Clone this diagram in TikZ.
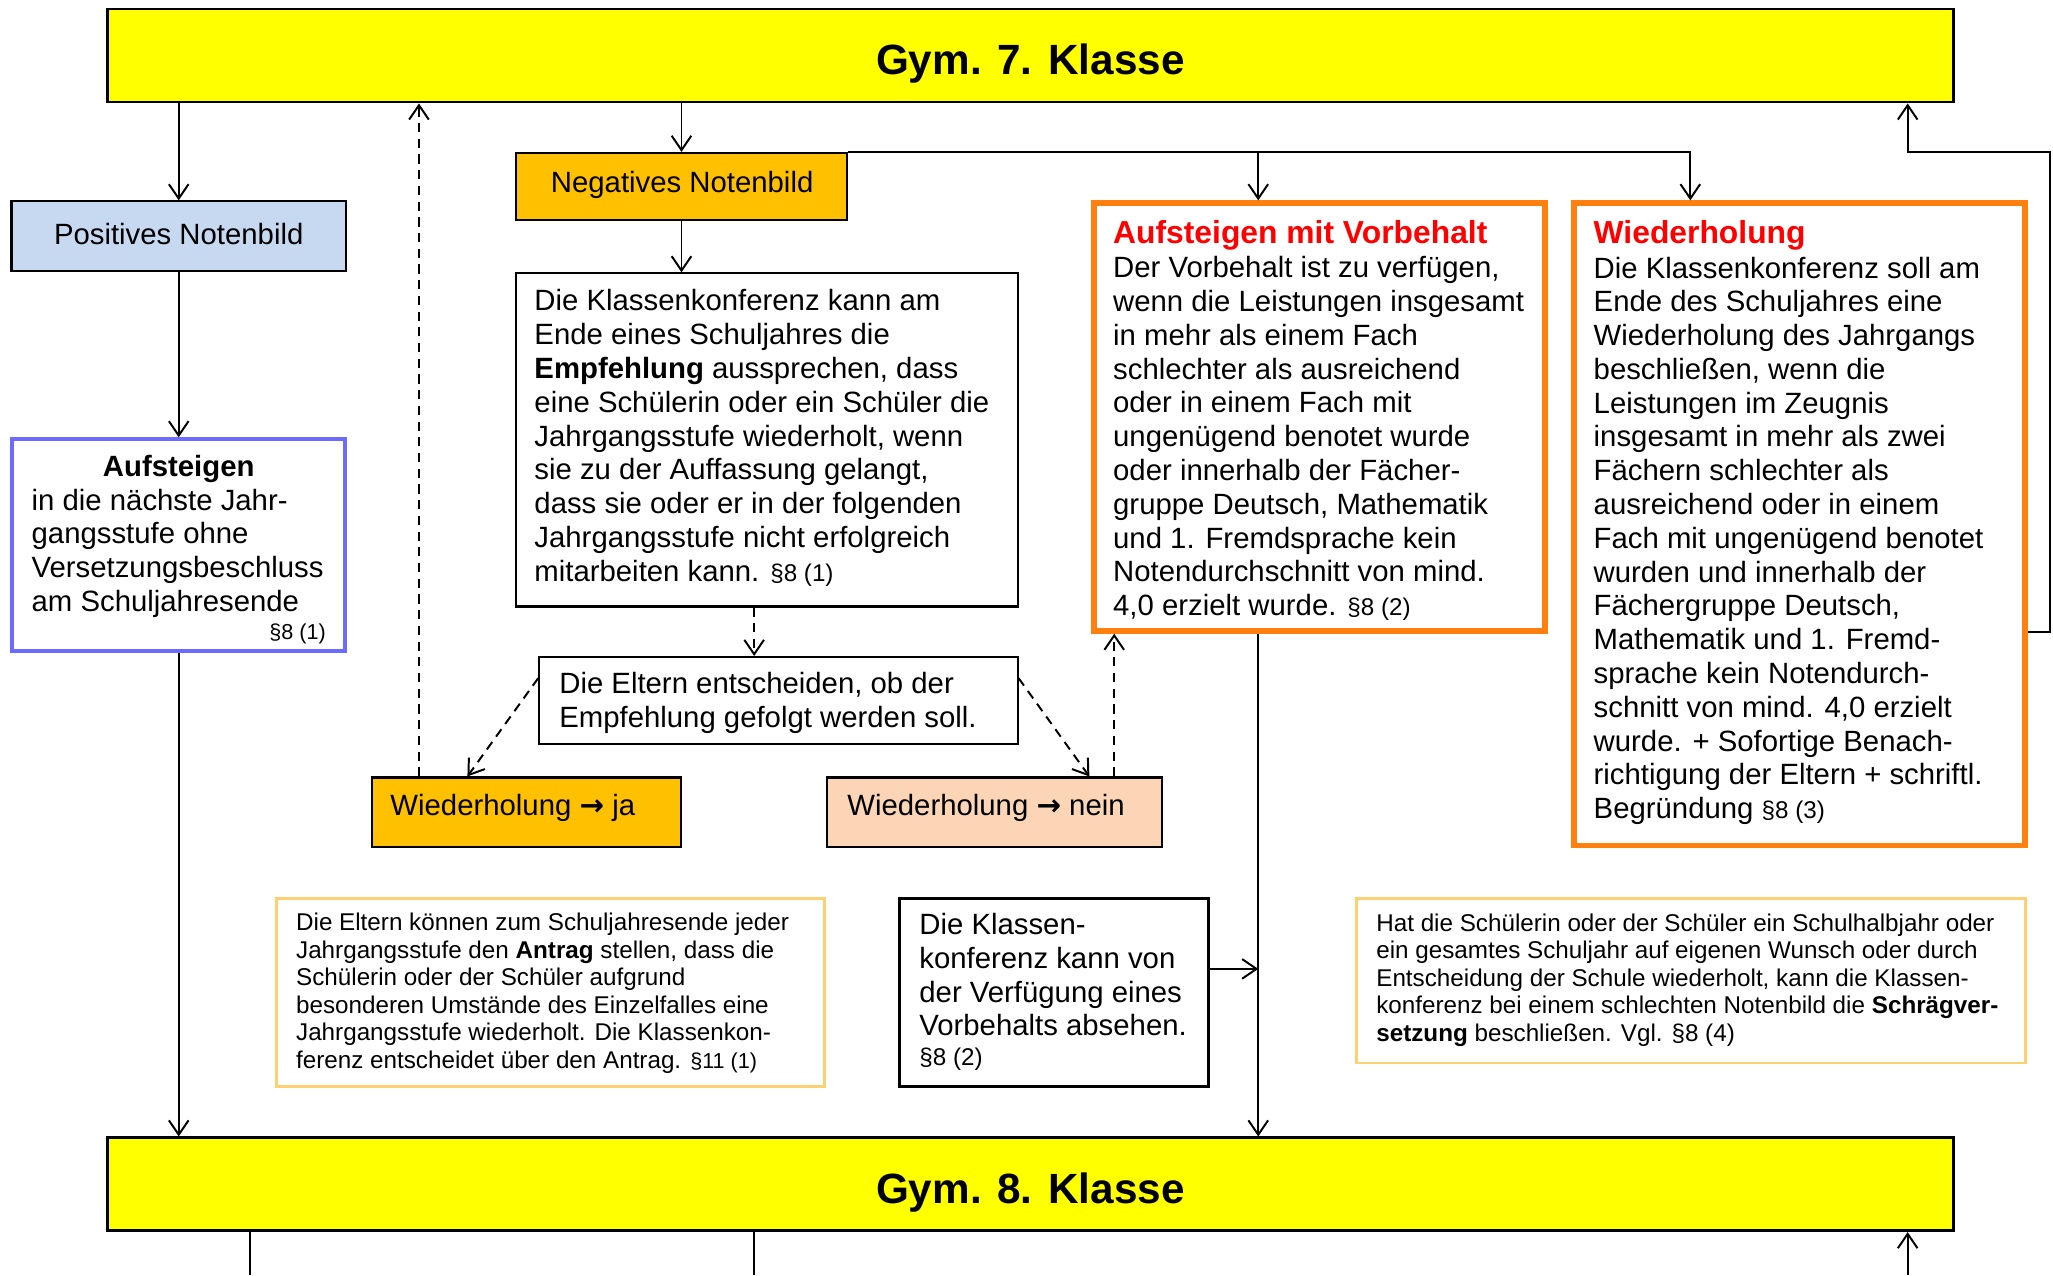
\documentclass[tikz,border=0pt]{standalone}
\usepackage{fontspec}
\setmainfont{Liberation Sans}
\newfontfamily\arrowfont{DejaVu Sans}
\usetikzlibrary{arrows.meta}
\definecolor{gelb}{HTML}{FFFF00}
\definecolor{hblau}{HTML}{C6D9F1}
\definecolor{gold}{HTML}{FFC000}
\definecolor{pfirsich}{HTML}{FBD5B5}
\definecolor{blaurand}{HTML}{6B6BFF}
\definecolor{orangerand}{HTML}{FF800F}
\definecolor{hellorange}{HTML}{FFD070}
\definecolor{rot}{HTML}{FF0000}
\newcommand\mainf{\fontsize{22.4}{25.8}\selectfont}
\newcommand\smallf{\fontsize{18.5}{21}\selectfont}
\newcommand\reff{\fontsize{18.5}{21}\selectfont}
\newcommand\tinyref{\fontsize{16.5}{19}\selectfont}
\newcommand\titlef{\fontsize{32.3}{36}\selectfont\bfseries}
\newcommand\headf{\fontsize{24.3}{28}\selectfont\bfseries}
\newcommand\pfeil{{\arrowfont\bfseries →}}
\begin{document}
\begin{tikzpicture}[x=1pt,y=-1pt,
  box/.style={draw=black, line width=1.6pt, inner sep=0pt, anchor=center},
  lbl/.style={inner sep=0pt, yshift=-2.5pt},
  txt/.style={inner sep=0pt, align=left, font=\mainf, anchor=west, yshift=-2pt},
  stxt/.style={inner sep=0pt, align=left, font=\smallf, anchor=west, yshift=-2pt},
  arr/.style={draw=black, line width=1.5pt, -{Straight Barb[length=11pt,width=15pt]}},
  darr/.style={arr, dash pattern=on 7pt off 5pt},
  plain/.style={draw=black, line width=1.5pt}]
\useasboundingbox (0,0) rectangle (1568,974);
% boxes
\node[box, line width=2pt, fill=gelb, minimum width=1410pt, minimum height=71pt] (g7) at (787,42.5) {};
\node[box, line width=2pt, fill=gelb, minimum width=1410pt, minimum height=71pt] (g8) at (787,904.5) {};
\node[box, fill=hblau, minimum width=255.4pt, minimum height=53.4pt] (pos) at (136.5,180.5) {};
\node[box, draw=blaurand, line width=3pt, minimum width=254pt, minimum height=162pt] (auf) at (136.5,416.5) {};
\node[box, fill=gold, minimum width=253.4pt, minimum height=51.4pt] (neg) at (520.5,142.5) {};
\node[box, minimum width=383.4pt, minimum height=254.4pt] (kk) at (585.5,336) {};
\node[box, minimum width=365.4pt, minimum height=66.4pt] (elt) at (594.5,535) {};
\node[box, fill=gold, minimum width=236.4pt, minimum height=53.4pt] (ja) at (402,620.5) {};
\node[box, fill=pfirsich, minimum width=255.4pt, minimum height=53.4pt] (nein) at (759.5,620.5) {};
\node[box, draw=orangerand, line width=4.5pt, minimum width=344.5pt, minimum height=326.5pt] (vor) at (1007.5,318.5) {};
\node[box, draw=orangerand, line width=4.5pt, minimum width=344.5pt, minimum height=490.5pt] (wdh) at (1374.5,400.5) {};
\node[box, draw=hellorange, line width=2.2pt, minimum width=418.8pt, minimum height=143.8pt] (antrag) at (420.5,758) {};
\node[box, line width=2.4pt, minimum width=235.6pt, minimum height=143.6pt] (abs) at (805,758) {};
\node[box, draw=hellorange, line width=2.2pt, minimum width=510.8pt, minimum height=125.8pt] (schraeg) at (1291.5,749) {};
% texts
\node[lbl, font=\titlef] (g7t) at (787,46) {Gym. 7. Klasse};
\node[lbl, font=\titlef] (g8t) at (787,908) {Gym. 8. Klasse};
\node[lbl, font=\mainf] (post) at (136.5,176.5) {Positives Notenbild};
\node[lbl, font=\mainf\bfseries] (auft) at (136.5,356) {Aufsteigen};
\node[txt] (aufb) at (24,420.5) {in die nächste Jahr-\\gangsstufe ohne\\Versetzungsbeschluss\\am Schuljahresende};
\node[lbl, font=\tinyref, anchor=east] (aufr) at (249,482) {§8 (1)};
\node[lbl, font=\mainf] (negt) at (521,139) {Negatives Notenbild};
\node[txt] (kkt) at (408,332.5) {Die Klassenkonferenz kann am\\Ende eines Schuljahres die\\\textbf{Empfehlung} aussprechen, dass\\eine Schülerin oder ein Schüler die\\Jahrgangsstufe wiederholt, wenn\\sie zu der Auffassung gelangt,\\dass sie oder er in der folgenden\\Jahrgangsstufe nicht erfolgreich\\mitarbeiten kann. {\reff §8 (1)}};
\node[txt] (eltt) at (427,535) {Die Eltern entscheiden, ob der\\Empfehlung gefolgt werden soll.};
\node[txt] (jat) at (298,615) {Wiederholung \pfeil{} ja};
\node[txt] (neint) at (647,615) {Wiederholung \pfeil{} nein};
\node[lbl, font=\headf, text=rot, anchor=west] (vorh) at (850,177) {Aufsteigen mit Vorbehalt};
\node[txt] (vort) at (850,333) {Der Vorbehalt ist zu verfügen,\\wenn die Leistungen insgesamt\\in mehr als einem Fach\\schlechter als ausreichend\\oder in einem Fach mit\\ungenügend benotet wurde\\oder innerhalb der Fächer-\\gruppe Deutsch, Mathematik\\und 1. Fremdsprache kein\\Notendurchschnitt von mind.\\4,0 erzielt wurde. {\reff §8 (2)}};
\node[lbl, font=\headf, text=rot, anchor=west] (wdhh) at (1217,177) {Wiederholung};
\node[txt] (wdht) at (1217,411) {Die Klassenkonferenz soll am\\Ende des Schuljahres eine\\Wiederholung des Jahrgangs\\beschließen, wenn die\\Leistungen im Zeugnis\\insgesamt in mehr als zwei\\Fächern schlechter als\\ausreichend oder in einem\\Fach mit ungenügend benotet\\wurden und innerhalb der\\Fächergruppe Deutsch,\\Mathematik und 1. Fremd-\\sprache kein Notendurch-\\schnitt von mind. 4,0 erzielt\\wurde. + Sofortige Benach-\\richtigung der Eltern + schriftl.\\Begründung {\reff §8 (3)}};
\node[stxt] (antragt) at (226,756.5) {Die Eltern können zum Schuljahresende jeder\\Jahrgangsstufe den \textbf{Antrag} stellen, dass die\\Schülerin oder der Schüler aufgrund\\besonderen Umstände des Einzelfalles eine\\Jahrgangsstufe wiederholt. Die Klassenkon-\\ferenz entscheidet über den Antrag. {\tinyref §11 (1)}};
\node[txt] (abst) at (702,755.7) {Die Klassen-\\konferenz kann von\\der Verfügung eines\\Vorbehalts absehen.\\[-3pt]{\reff §8 (2)}};
\node[stxt] (schraegt) at (1051,746.5) {Hat die Schülerin oder der Schüler ein Schulhalbjahr oder\\ein gesamtes Schuljahr auf eigenen Wunsch oder durch\\Entscheidung der Schule wiederholt, kann die Klassen-\\konferenz bei einem schlechten Notenbild die \textbf{Schrägver-}\\\textbf{setzung} beschließen. Vgl. §8 (4)};
% helper coordinates
\coordinate (xV) at (961,0);
\coordinate (xW) at (1291,0);
\coordinate (xD) at (576,0);
\coordinate (xJ) at (320,0);
\coordinate (xN) at (851,0);
\coordinate (xR) at (1566,0);
\coordinate (xT) at (1457,0);
\coordinate (xB) at (191,0);
\coordinate (xJa) at (357,0);
\coordinate (xNe) at (832,0);
\coordinate (bot) at (0,974);
\coordinate (yA) at (0,740);
\coordinate (yW) at (0,483);
\coordinate (yT) at (0,116);
% connectors
\draw[arr] (pos.north |- g7.south) -- (pos.north);
\draw[arr] (pos.south) -- (auf.north);
\draw[arr] (auf.south) -- (auf.south |- g8.north);
\draw[arr] (neg.north |- g7.south) -- (neg.north);
\draw[arr] (neg.south) -- (neg.south |- kk.north);
\draw[arr] (neg.north east) -| (xW |- wdh.north);
\draw[arr] (xV |- neg.north) -- (xV |- vor.north);
\draw[darr] (xD |- kk.south) -- (xD |- elt.north);
\draw[darr] ([yshift=17pt]elt.west) -- (xJa |- ja.north);
\draw[darr] ([yshift=17pt]elt.east) -- (xNe |- nein.north);
\draw[darr] (xJ |- ja.north) -- (xJ |- g7.south);
\draw[darr] (xN |- nein.north) -- (xN |- vor.south);
\draw[arr] (xV |- vor.south) -- (xV |- g8.north);
\draw[arr] (abs.east |- yA) -- (xV |- yA);
\draw[arr] (wdh.east |- yW) -- (xR |- yW) -- (xR |- yT) -- (xT |- yT) -- (xT |- g7.south);
\draw[plain] (xB |- g8.south) -- (xB |- bot);
\draw[plain] (xD |- g8.south) -- (xD |- bot);
\draw[arr] (xT |- bot) -- (xT |- g8.south);
\end{tikzpicture}
\end{document}
